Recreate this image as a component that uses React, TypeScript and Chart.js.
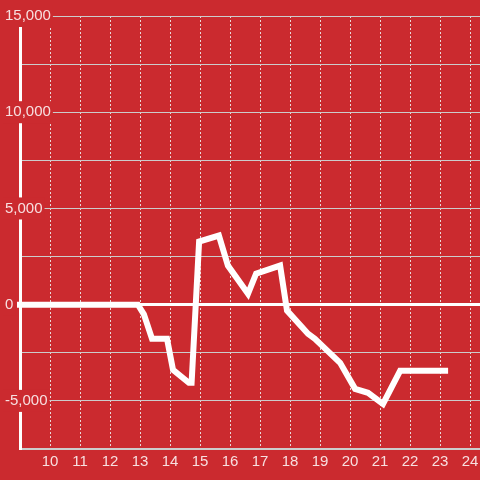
import React, { useEffect, useRef } from 'react';
import { Chart, registerables } from 'chart.js';

Chart.register(...registerables);

// Hour of day (x) and running value (y)
const hours = [8.9, 12.93, 13.13, 13.4, 13.9, 14.1, 14.63, 14.72, 14.97, 15.63, 15.93, 16.6, 16.87, 17.67, 17.9, 18.6, 18.83, 19.67, 20.17, 20.6, 21.1, 21.67, 23.27];
const values = [0, 0, -500, -1770, -1770, -3390, -4060, -4060, 3280, 3590, 2030, 570, 1610, 2030, -310, -1510, -1770, -3020, -4375, -4580, -5160, -3440, -3440];

const xTickValues = [10, 11, 12, 13, 14, 15, 16, 17, 18, 19, 20, 21, 22, 23, 24];
const xMin = 9;
const xMax = 24.333;
const yMin = -7500;
const yMax = 15000;
const yStep = 2500;
const yLabelStep = 5000;

const BG = '#cb2a2f';
const TEXT = 'rgba(255,255,255,0.85)';
const FONT = { family: "Arial, 'Liberation Sans', sans-serif", size: 15 };

export default function App() {
  const ref = useRef<HTMLCanvasElement>(null);

  useEffect(() => {
    if (!ref.current) return;
    const chart = new Chart(ref.current, {
      type: 'line',
      data: {
        datasets: [
          {
            data: hours.map((h, i) => ({ x: h, y: values[i] })),
            borderColor: '#ffffff',
            borderWidth: 6,
            pointRadius: 0,
            tension: 0,
            fill: false,
            clip: 3,
          },
        ],
      },
      options: {
        animation: false,
        responsive: true,
        maintainAspectRatio: false,
        layout: { padding: { top: 16, bottom: 5, left: 0, right: 0 } },
        plugins: { legend: { display: false }, tooltip: { enabled: false } },
        scales: {
          x: {
            type: 'linear',
            min: xMin,
            max: xMax,
            afterBuildTicks: (s: any) => {
              s.ticks = xTickValues.map((v) => ({ value: v }));
            },
            afterFit: (s: any) => {
              s.paddingRight = 0;
              s.paddingLeft = 0;
            },
            grid: { color: 'rgba(235,235,235,0.9)', lineWidth: 1, drawTicks: false },
            border: { display: true, color: '#cccccc', width: 2, dash: [2, 2] },
            ticks: {
              color: TEXT,
              font: FONT,
              padding: 4,
              maxRotation: 0,
              autoSkip: false,
              callback: (v: any) => String(v),
            },
          },
          y: {
            type: 'linear',
            min: yMin,
            max: yMax,
            afterFit: (s: any) => {
              s.width = 20;
            },
            grid: {
              color: (ctx: any) => (ctx.tick && ctx.tick.value === 0 ? '#ffffff' : '#cccccc'),
              lineWidth: (ctx: any) => (ctx.tick && ctx.tick.value === 0 ? 3 : 1),
              drawTicks: false,
            },
            border: { display: true, color: '#ffffff', width: 3 },
            ticks: {
              stepSize: yStep,
              mirror: true,
              padding: -15,
              color: TEXT,
              font: FONT,
              showLabelBackdrop: true,
              backdropPadding: 2,
              backdropColor: (ctx: any) =>
                ctx.tick && ctx.tick.value % yLabelStep === 0 ? BG : 'rgba(0,0,0,0)',
              callback: (v: any) =>
                Number(v) % yLabelStep === 0 ? Number(v).toLocaleString('en-US') : '',
            },
          },
        },
      },
    } as any);
    return () => chart.destroy();
  }, []);

  return (
    <div
      style={{
        position: 'fixed',
        left: 0,
        top: 0,
        width: 480,
        height: 480,
        background: BG,
      }}
    >
      <canvas ref={ref} />
    </div>
  );
}
